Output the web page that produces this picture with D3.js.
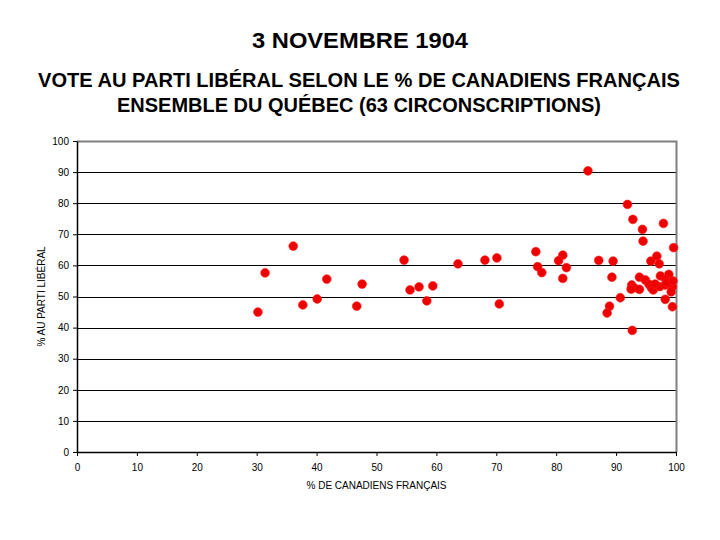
<!DOCTYPE html>
<html>
<head>
<meta charset="utf-8">
<script src="https://cdn.jsdelivr.net/npm/d3@7"></script>
<style>
  body { margin: 0; background: #fff; }
  svg { font-family: "Liberation Sans", Arial, sans-serif; }
</style>
</head>
<body>
<svg id="chart" width="720" height="540"></svg>
<script>
// % de Canadiens français par circonscription
const pctCanadiensFrancais = [
  30.2, 31.4, 36.1, 37.7, 40.1, 41.7, 46.7, 47.6, 54.6, 55.6,
  57.1, 58.4, 59.4, 63.6, 68.1, 70.1, 70.5, 76.6, 76.9, 77.6,
  81.1, 80.4, 81.7, 81.1, 85.3, 87.1, 89.5, 89.3, 90.7, 88.9,
  88.5, 92.7, 91.9, 92.8, 94.4, 94.5, 97.9, 99.6, 95.8, 96.8,
  97.2, 93.9, 94.9, 97.4, 98.8, 98.3, 92.6, 93.0, 93.9, 95.5,
  95.9, 96.2, 97.3, 98.2, 99.0, 99.4, 99.2, 92.5, 98.2, 99.4,
  98.5, 96.5, 99.5
];
// % du vote au parti libéral
const pctPartiLiberal = [
  45.0, 57.6, 66.2, 47.3, 49.2, 55.6, 46.9, 54.0, 61.7, 52.1,
  53.1, 48.6, 53.4, 60.5, 61.7, 62.4, 47.6, 64.4, 59.6, 57.7,
  63.3, 61.5, 59.3, 55.8, 90.4, 61.6, 61.4, 56.2, 49.6, 46.9,
  44.7, 39.1, 79.6, 74.8, 71.6, 67.8, 73.5, 65.7, 61.4, 63.0,
  60.5, 56.2, 55.3, 56.6, 57.1, 55.5, 53.7, 52.8, 52.3, 53.9,
  52.8, 52.1, 53.2, 53.7, 53.7, 53.2, 51.5, 52.4, 49.1, 46.7,
  54.5, 54.0, 55.0
];
const xTicks = [0, 10, 20, 30, 40, 50, 60, 70, 80, 90, 100];
const yTicks = [0, 10, 20, 30, 40, 50, 60, 70, 80, 90, 100];

const titre = "3 NOVEMBRE 1904";
const sousTitre = ["VOTE AU PARTI LIBÉRAL SELON LE % DE CANADIENS FRANÇAIS",
                   "ENSEMBLE DU QUÉBEC (63 CIRCONSCRIPTIONS)"];

const svg = d3.select("#chart");
const margin = { left: 77, right: 44, top: 141, bottom: 88 };
const width = 720 - margin.left - margin.right;
const height = 540 - margin.top - margin.bottom;

const x = d3.scaleLinear().domain([0, 100]).range([0, width]);
const y = d3.scaleLinear().domain([0, 100]).range([height, 0]);

// titles
svg.append("text")
  .attr("x", 360).attr("y", 48)
  .attr("text-anchor", "middle")
  .attr("font-size", 22).attr("font-weight", "bold")
  .attr("textLength", 216).attr("lengthAdjust", "spacingAndGlyphs")
  .text(titre);

const sousLargeur = [642, 484];
svg.selectAll(".sous")
  .data(sousTitre)
  .enter().append("text")
  .attr("x", 359)
  .attr("y", (d, i) => 87 + i * 25)
  .attr("text-anchor", "middle")
  .attr("font-size", 19.5).attr("font-weight", "bold")
  .attr("textLength", (d, i) => sousLargeur[i]).attr("lengthAdjust", "spacingAndGlyphs")
  .text(d => d);

const g = svg.append("g")
  .attr("transform", `translate(${margin.left},${margin.top})`);

// gridlines
g.selectAll(".grid")
  .data(yTicks.filter(t => t > 0 && t < 100))
  .enter().append("line")
  .attr("x1", 0).attr("x2", width)
  .attr("y1", d => Math.round(y(d)) + 0.5)
  .attr("y2", d => Math.round(y(d)) + 0.5)
  .attr("stroke", "#000").attr("stroke-width", 1);

// plot border (top and right, gray)
g.append("path")
  .attr("d", `M0,0.5H${width + 0.5}V${height}`)
  .attr("fill", "none").attr("stroke", "#808080").attr("stroke-width", 2);

// axes
const xAxis = g.append("g")
  .attr("transform", `translate(0,${height})`)
  .call(d3.axisBottom(x).tickValues(xTicks).tickSize(4).tickPadding(8).tickSizeOuter(0));
const yAxis = g.append("g")
  .call(d3.axisLeft(y).tickValues(yTicks).tickSize(4).tickPadding(4).tickSizeOuter(0));

[xAxis, yAxis].forEach(a => {
  a.select(".domain").attr("stroke", "#000").attr("stroke-width", 1.5);
  a.selectAll(".tick line").attr("stroke", "#000");
  a.selectAll("text")
    .attr("font-family", "'Liberation Sans', Arial, sans-serif")
    .attr("font-size", 10).attr("fill", "#000");
});

// axis titles
svg.append("text")
  .attr("x", margin.left + width / 2).attr("y", 489)
  .attr("text-anchor", "middle")
  .attr("font-size", 10)
  .text("% DE CANADIENS FRANÇAIS");

svg.append("text")
  .attr("transform", `translate(45,${margin.top + height / 2}) rotate(-90)`)
  .attr("text-anchor", "middle")
  .attr("font-size", 10)
  .text("% AU PARTI LIBÉRAL");

// points
const points = pctCanadiensFrancais.map((v, i) => ({ x: v, y: pctPartiLiberal[i] }));
g.selectAll(".pt")
  .data(points)
  .enter().append("circle")
  .attr("cx", d => x(d.x))
  .attr("cy", d => y(d.y))
  .attr("r", 4.4)
  .attr("fill", "#ee0000")
  .attr("stroke", "#ff2020")
  .attr("stroke-width", 0.6);
</script>
</body>
</html>
